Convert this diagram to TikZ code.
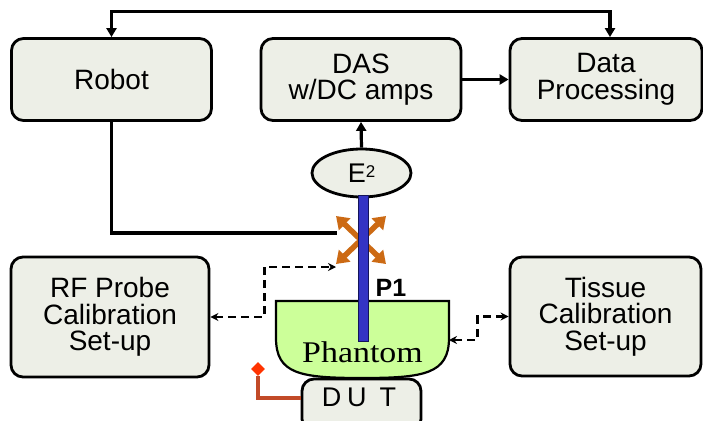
\documentclass[tikz,border=0pt]{standalone}
\usepackage{fontspec}
\setmainfont{Liberation Sans}
\newfontfamily\phfont{Liberation Serif}
\usetikzlibrary{arrows.meta,shapes.geometric}
\definecolor{boxfill}{HTML}{EDEFE7}
\definecolor{phgreen}{HTML}{CCFF99}
\definecolor{probeblue}{HTML}{3434C4}
\definecolor{probeedge}{HTML}{14145A}
\definecolor{orangex}{HTML}{CC6A14}
\definecolor{redline}{HTML}{C24A28}
\definecolor{reddot}{HTML}{FF3300}
\begin{document}
\begin{tikzpicture}[x=1pt,y=-1pt,
  blk/.style={draw=black,line width=2.8pt,fill=boxfill,rounded corners=12pt,
    align=center,font=\fontsize{28}{26.5}\selectfont,inner sep=0pt},
  conn/.style={line width=3.2pt,-{Triangle[length=9pt,width=10pt]}},
  bothconn/.style={line width=3.2pt,{Triangle[length=9pt,width=10pt]}-{Triangle[length=9pt,width=10pt]}},
  dashconn/.style={line width=2.8pt,dash pattern=on 8pt off 5pt,
    {Stealth[length=8pt,width=8pt]}-{Stealth[length=8pt,width=8pt]}},
  orarr/.style={draw=orangex,line width=5.5pt,
    {Triangle[length=12pt,width=16pt]}-{Triangle[length=12pt,width=16pt]}},
  plain/.style={line width=3.2pt}]
\clip (0,0) rectangle (703,420);
\fill[white] (0,0) rectangle (703,420);

% boxes
\node[blk,minimum width=200pt,minimum height=82pt] (robot) at (111.5,79.5) {Robot};
\node[blk,minimum width=200pt,minimum height=82pt] (das) at (361,79.5) {DAS\\w/DC amps};
\node[blk,minimum width=192pt,minimum height=82pt] (dp) at (606,79.5) {Data\\Processing};
\node[blk,minimum width=198pt,minimum height=120pt] (rf) at (110,317) {RF Probe\\Calibration\\Set-up};
\node[blk,minimum width=191pt,minimum height=119pt] (ts) at (605.5,316.5) {Tissue\\Calibration\\Set-up};

% E2 ellipse
\node[ellipse,draw=black,line width=2.8pt,fill=boxfill,minimum width=99pt,minimum height=48pt,inner sep=0pt]
  (e2) at (361.5,173) {\fontsize{27}{27}\selectfont E{\fontsize{17}{17}\selectfont\raisebox{5pt}{2}}};

% top connections
\draw[bothconn] (robot.north) -- ++(0,-25.5) -| ([xshift=4pt]dp.north);
\draw[conn] (das.east) -- (dp.west);
\draw[conn] (e2.north) -- (das.south);

% robot to probe mount
\coordinate (rbend) at (337,233);
\draw[plain] (robot.south) |- (rbend);

% orange cross arrows
\coordinate (xnw) at (336,216);
\coordinate (xse) at (386,264);
\coordinate (xne) at (386,216);
\coordinate (xsw) at (336,264);
\draw[orarr] (xnw) -- (xse);
\draw[orarr] (xne) -- (xsw);

% phantom
\draw[line width=2.2pt,fill=phgreen] (276,301) -- (276,338)
  .. controls (276,374) and (300,378) .. (362,378)
  .. controls (424,378) and (449,374) .. (449,338) -- (449,301) -- cycle;
\node[anchor=base,inner sep=0pt] (phlabel) at (362.5,362)
  {\phfont\fontsize{30}{30}\selectfont\scalebox{1.13}[1]{Phantom}};

% probe
\node[draw=probeedge,fill=probeblue,line width=1pt,minimum width=10pt,minimum height=146pt,inner sep=0pt]
  (probe) at (363,268) {};
\node[anchor=base,inner sep=0pt,font=\bfseries\fontsize{25}{25}\selectfont] (p1) at (391,296) {P1};

% dashed calibration links
\coordinate (rftop) at (336,267);
\draw[dashconn] (rf.east) -- ++(54,0) |- (rftop);
\coordinate (phr) at (449,340);
\draw[dashconn] (ts.west) -- ++(-31,0) |- (phr);

% DUT
\node[blk,minimum width=119pt,minimum height=52pt] (dut) at (361.5,405) {};
\node[anchor=base,inner sep=0pt,font=\fontsize{27}{27}\selectfont] (duttext) at (359,406)
  {D\hspace{6pt}U\hspace{13pt}T};
\node[diamond,fill=reddot,minimum size=14pt,inner sep=0pt] (rdot) at (258,369) {};
\draw[draw=redline,line width=4.5pt] ([yshift=7pt]dut.west) -| (rdot.south);
\end{tikzpicture}
\end{document}
